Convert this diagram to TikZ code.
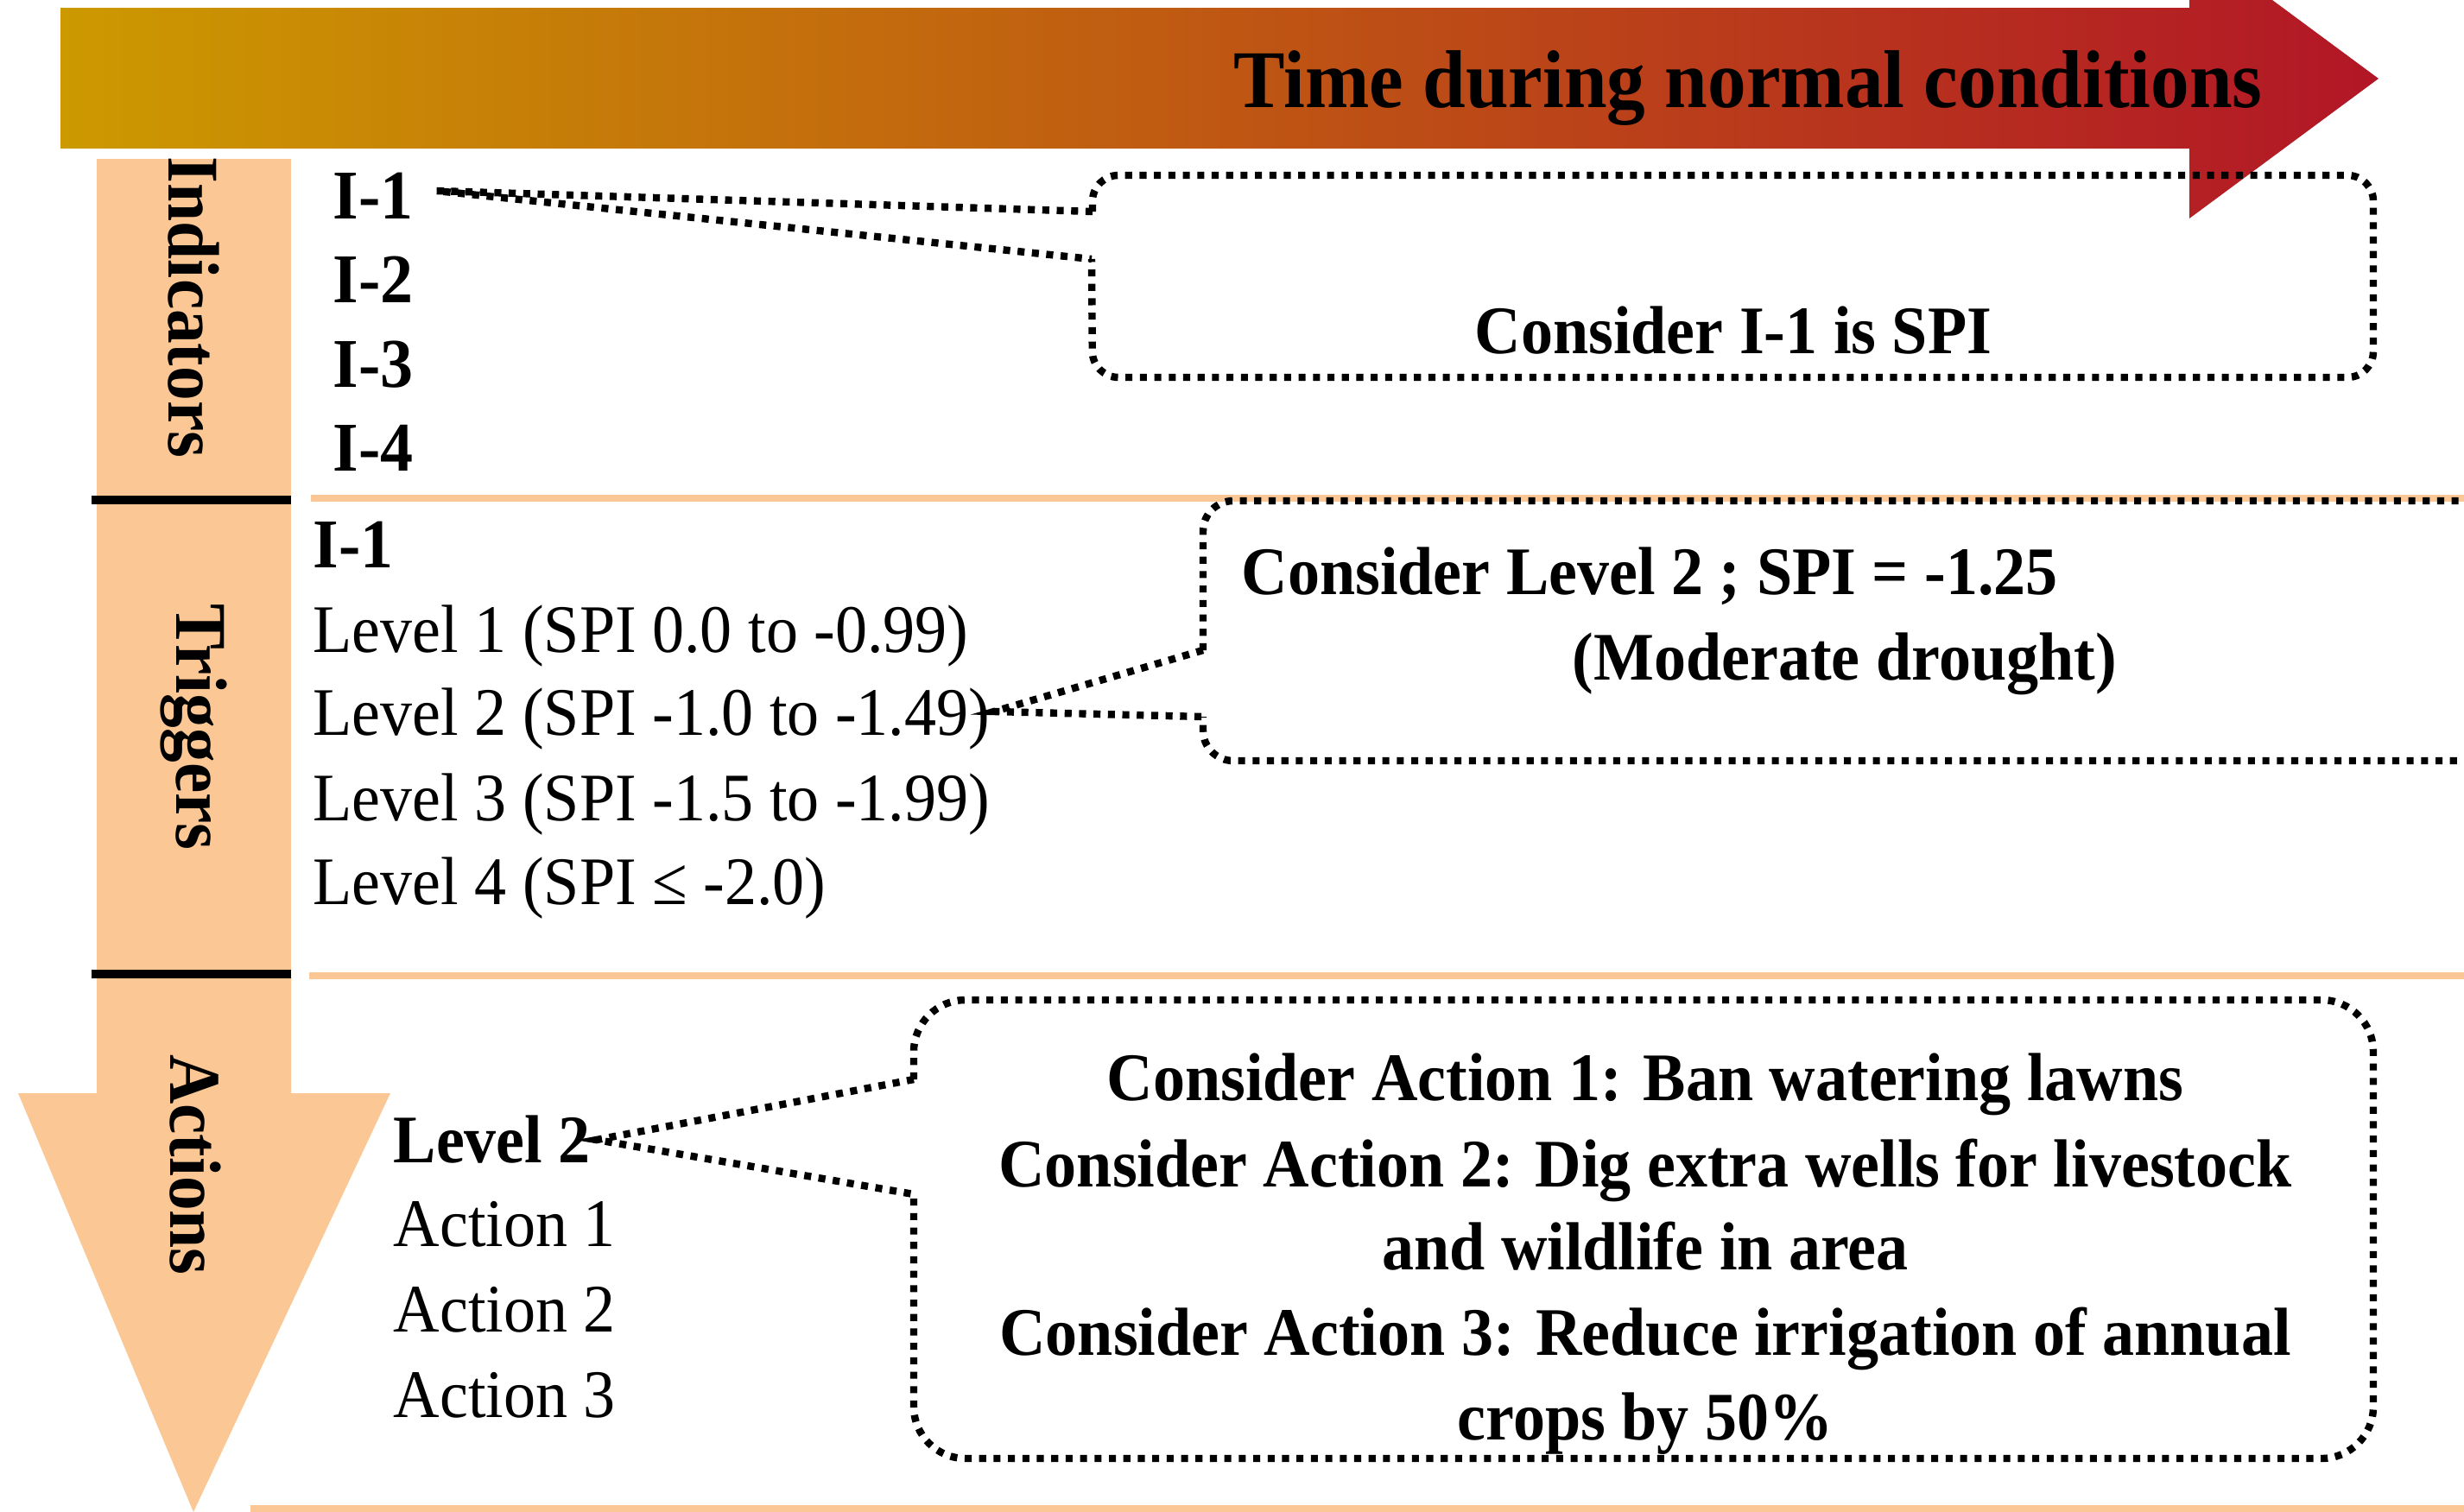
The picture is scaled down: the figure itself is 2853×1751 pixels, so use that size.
\documentclass[tikz,border=0pt]{standalone}
\usepackage{fontspec}
\setmainfont{Liberation Serif}[FakeStretch=0.94]
\usetikzlibrary{calc}
\definecolor{peach}{RGB}{251,199,148}
\definecolor{goldc}{RGB}{204,153,0}
\definecolor{arrowred}{RGB}{178,22,38}
\tikzset{
  lbl/.style={inner sep=0pt, anchor=base west, font=\fontsize{22.4}{27}\selectfont},
  blbl/.style={inner sep=0pt, anchor=base west, font=\fontsize{22.4}{27}\selectfont\bfseries},
  ilbl/.style={inner sep=0pt, anchor=base west, font=\fontsize{23}{27}\selectfont\bfseries},
  cb/.style={inner sep=0pt, anchor=base, font=\fontsize{22.4}{27}\selectfont\bfseries},
  ttl/.style={inner sep=0pt, anchor=base west, font=\fontsize{27}{32}\selectfont\bfseries},
  vlbl/.style={inner sep=0pt, rotate=-90, font=\fontsize{24}{28}\selectfont\bfseries},
  dotline/.style={line width=2.4pt, dash pattern=on 2.3pt off 2.45pt},
}
\begin{document}
\begin{tikzpicture}[x=0.01cm,y=0.01cm]
\useasboundingbox (0,0) rectangle (2853,-1751);
\clip (0,0) rectangle (2853,-1751);
\fill[white] (0,0) rectangle (2853,-1751);

% top time arrow
\shade[left color=goldc, right color=arrowred]
  (70,-9) -- (2535,-9) -- (2535,71) -- (2754,-91) -- (2535,-253) -- (2535,-172) -- (70,-172) -- cycle;
\node[ttl] (time) at (1428,-124) {Time during normal conditions};

% left column
\fill[peach] (112,-184) rectangle (337,-1128);
\fill[peach] (112,-1128) -- (337,-1128) -- (337,-1266) -- (452,-1266) -- (224,-1751) -- (21,-1266) -- (112,-1266) -- cycle;
\fill[black] (106,-574) rectangle (337,-584);
\fill[black] (106,-1123) rectangle (337,-1133);

% separator lines
\fill[peach] (360,-573) rectangle (2853,-581);
\fill[peach] (358,-1126) rectangle (2853,-1134);
\fill[peach] (290,-1743) rectangle (2853,-1751);

% section labels
\node[vlbl] (ind) at (224,-356) {Indicators};
\node[vlbl] (trig) at (224,-842) {Triggers};
\node[vlbl] (act) at (226,-1349) {Actions};

% indicators
\node[ilbl] (i1) at (385,-253) {I-1};
\node[ilbl] (i2) at (385,-350) {I-2};
\node[ilbl] (i3) at (385,-448) {I-3};
\node[ilbl] (i4) at (385,-545) {I-4};

% triggers
\node[ilbl] (t0) at (362,-657) {I-1};
\node[lbl] (t1) at (362,-755) {Level 1 (SPI 0.0 to -0.99)};
\node[lbl] (t2) at (362,-851) {Level 2 (SPI -1.0 to -1.49)};
\node[lbl] (t3) at (362,-950) {Level 3 (SPI -1.5 to -1.99)};
\node[lbl] (t4) at (362,-1047) {Level 4 (SPI ≤ -2.0)};

% actions
\node[blbl] (a0) at (455,-1346) {Level 2};
\node[lbl] (a1) at (455,-1443) {Action 1};
\node[lbl] (a2) at (455,-1542) {Action 2};
\node[lbl] (a3) at (455,-1641) {Action 3};

% callout 1
\coordinate (p1) at ($(i1.base east)+(26,32)$);
\coordinate (c1a) at (1265,-245);
\coordinate (c1b) at (1264,-300);
\draw[dotline, rounded corners=0.3cm] (c1a) -- (1265,-203) -- (2748,-203) -- (2748,-437) -- (1265,-437) -- (c1b);
\draw[dotline] (c1a) -- (p1) -- (c1b);
\node[cb] (k1) at (2007,-409) {Consider I-1 is SPI};

% callout 2
\coordinate (p2) at ($(t2.base east)+(4,27)$);
\coordinate (c2a) at (1393,-753);
\coordinate (c2b) at (1393,-830);
\draw[dotline, rounded corners=0.35cm] (c2a) -- (1393,-580) -- (2890,-580) -- (2890,-881) -- (1393,-881) -- (c2b);
\draw[dotline] (c2a) -- (p2) -- (c2b);
\node[blbl] (k2) at (1437,-688) {Consider Level 2 ; SPI = -1.25};
\node[blbl] (k3) at (1820,-787) {(Moderate drought)};

% callout 3
\coordinate (p3) at ($(a0.base east)+(6,26)$);
\coordinate (c3a) at (1058,-1250);
\coordinate (c3b) at (1058,-1383);
\draw[dotline, rounded corners=0.6cm] (c3a) -- (1058,-1158) -- (2748,-1158) -- (2748,-1689) -- (1058,-1689) -- (c3b);
\draw[dotline] (c3a) -- (p3) -- (c3b);
\node[cb] (m1) at (1905,-1274) {Consider Action 1: Ban watering lawns};
\node[cb] (m2) at (1905,-1374) {Consider Action 2: Dig extra wells for livestock};
\node[cb] (m3) at (1905,-1470) {and wildlife in area};
\node[cb] (m4) at (1905,-1569) {Consider Action 3: Reduce irrigation of annual};
\node[cb] (m5) at (1905,-1667) {crops by 50\%};
\end{tikzpicture}
\end{document}
